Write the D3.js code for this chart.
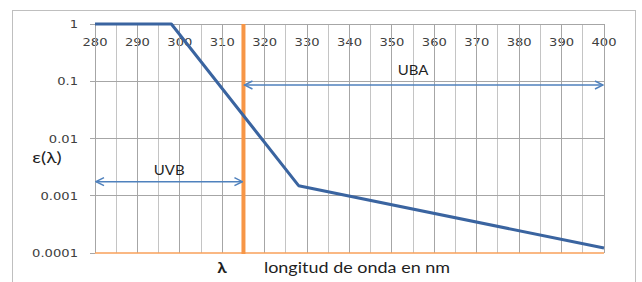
<!DOCTYPE html>
<html lang="es">
<head>
<meta charset="utf-8">
<title>Espectro de acción eritemática</title>
<script src="https://d3js.org/d3.v7.min.js"></script>
<style>
  body { margin: 0; background: #fff; }
  .grid-major { stroke: #a6a6a6; stroke-width: 1; shape-rendering: crispEdges; }
  .grid-minor { stroke: #c4c4c4; stroke-width: 1; shape-rendering: crispEdges; }
  .tick-label { font-family: "DejaVu Sans", sans-serif; font-size: 10.5px; fill: #404040; }
  .note { font-family: Lato, "Open Sans", sans-serif; fill: #1f1f1f; }
</style>
</head>
<body>
<div id="chart"></div>
<script>
// data
var xTicks = [280, 290, 300, 310, 320, 330, 340, 350, 360, 370, 380, 390, 400];
var xMinor = [285, 295, 305, 315, 325, 335, 345, 355, 365, 375, 385, 395];
var yTicks = [1, 0.1, 0.01, 0.001, 0.0001];
var yLabels = ["1", "0.1", "0.01", "0.001", "0.0001"];
var wavelength = [280, 298, 328, 400];
var epsilon = [1, 1, 0.0015, 0.000122];
var cutoff = 315;
var ubaRange = [315, 400], ubaLevel = 0.086;
var uvbRange = [280, 315], uvbLevel = 0.00176;

var W = 642, H = 282;
var svg = d3.select("#chart").append("svg")
  .attr("width", W).attr("height", H);

var x = d3.scaleLinear().domain([280, 400]).range([95, 604]);
var y = d3.scaleLog().domain([0.0001, 1]).range([253, 24]);

// outer frame
svg.append("rect")
  .attr("x", 12.5).attr("y", 10.5)
  .attr("width", 623).attr("height", 290)
  .attr("fill", "none").attr("stroke", "#bfbfbf");

var sx = 1.25; // text looks horizontally stretched

// minor vertical grid
svg.append("g").selectAll("line").data(xMinor).join("line")
  .attr("class", "grid-minor")
  .attr("x1", d => x(d)).attr("x2", d => x(d))
  .attr("y1", y(1)).attr("y2", y(0.0001));

// x tick labels (drawn before major grid so lines cross them)
svg.append("g").selectAll("text").data(xTicks).join("text")
  .attr("class", "tick-label")
  .attr("text-anchor", "middle")
  .attr("transform", d => "translate(" + x(d) + ",46) scale(" + sx + ",1)")
  .text(d => d);

// major vertical grid
svg.append("g").selectAll("line").data(xTicks).join("line")
  .attr("class", "grid-major")
  .attr("x1", d => x(d)).attr("x2", d => x(d))
  .attr("y1", y(1)).attr("y2", y(0.0001));

// horizontal grid + tick marks
svg.append("g").selectAll("line").data(yTicks.slice(0, 4)).join("line")
  .attr("class", "grid-major")
  .attr("x1", 90).attr("x2", x(400))
  .attr("y1", d => y(d)).attr("y2", d => y(d));

svg.append("line")
  .attr("x1", 90).attr("x2", x(280))
  .attr("y1", y(0.0001)).attr("y2", y(0.0001))
  .attr("stroke", "#a6a6a6").attr("shape-rendering", "crispEdges");

svg.append("g").selectAll("text").data(yTicks).join("text")
  .attr("class", "tick-label")
  .attr("text-anchor", "end")
  .attr("transform", d => "translate(78," + (y(d) + 4) + ") scale(" + sx + ",1)")
  .text((d, i) => yLabels[i]);

// bottom axis (orange)
svg.append("line")
  .attr("x1", x(280)).attr("x2", x(400))
  .attr("y1", y(0.0001)).attr("y2", y(0.0001))
  .attr("stroke", "#f9a05a").attr("stroke-width", 1.5);

// cutoff line
svg.append("line")
  .attr("x1", x(cutoff)).attr("x2", x(cutoff))
  .attr("y1", y(1)).attr("y2", y(0.0001) + 1)
  .attr("stroke", "#f79646").attr("stroke-width", 4);

// arrows
var defs = svg.append("defs");
defs.append("marker")
  .attr("id", "head")
  .attr("viewBox", "0 0 10 10")
  .attr("refX", 9).attr("refY", 5)
  .attr("markerWidth", 10).attr("markerHeight", 10)
  .attr("markerUnits", "userSpaceOnUse")
  .attr("orient", "auto-start-reverse")
  .append("path")
  .attr("d", "M1,1 L9,5 L1,9")
  .attr("fill", "none").attr("stroke", "#4f81bd").attr("stroke-width", 1.5);

function arrow(range, level) {
  svg.append("line")
    .attr("x1", x(range[0]) + 1).attr("x2", x(range[1]) - 1)
    .attr("y1", y(level)).attr("y2", y(level))
    .attr("stroke", "#4f81bd").attr("stroke-width", 1.5)
    .attr("marker-start", "url(#head)")
    .attr("marker-end", "url(#head)");
}
arrow(ubaRange, ubaLevel);
arrow(uvbRange, uvbLevel);

// curve
var line = d3.line()
  .x((d, i) => x(wavelength[i]))
  .y(d => y(d));
svg.append("path")
  .attr("d", line(epsilon))
  .attr("fill", "none")
  .attr("stroke", "#3a64a0")
  .attr("stroke-width", 3)
  .attr("stroke-linejoin", "round");

// annotations
function note(txt, px, py, size, weight, stretch) {
  svg.append("text")
    .attr("class", "note")
    .attr("text-anchor", "middle")
    .attr("font-size", size)
    .attr("font-weight", weight || "normal")
    .attr("transform", "translate(" + px + "," + py + ") scale(" + (stretch || 1.15) + ",1)")
    .text(txt);
}
note("UBA", x(355), 75, 13);
note("UVB", x(297.5), 175, 13);
note("ε(λ)", 47, 163, 16, "normal", 1.2);
note("λ", 222, 273, 15, "bold");
note("longitud de onda en nm", 357, 273, 14.5, "normal", 1.24);
</script>
</body>
</html>
